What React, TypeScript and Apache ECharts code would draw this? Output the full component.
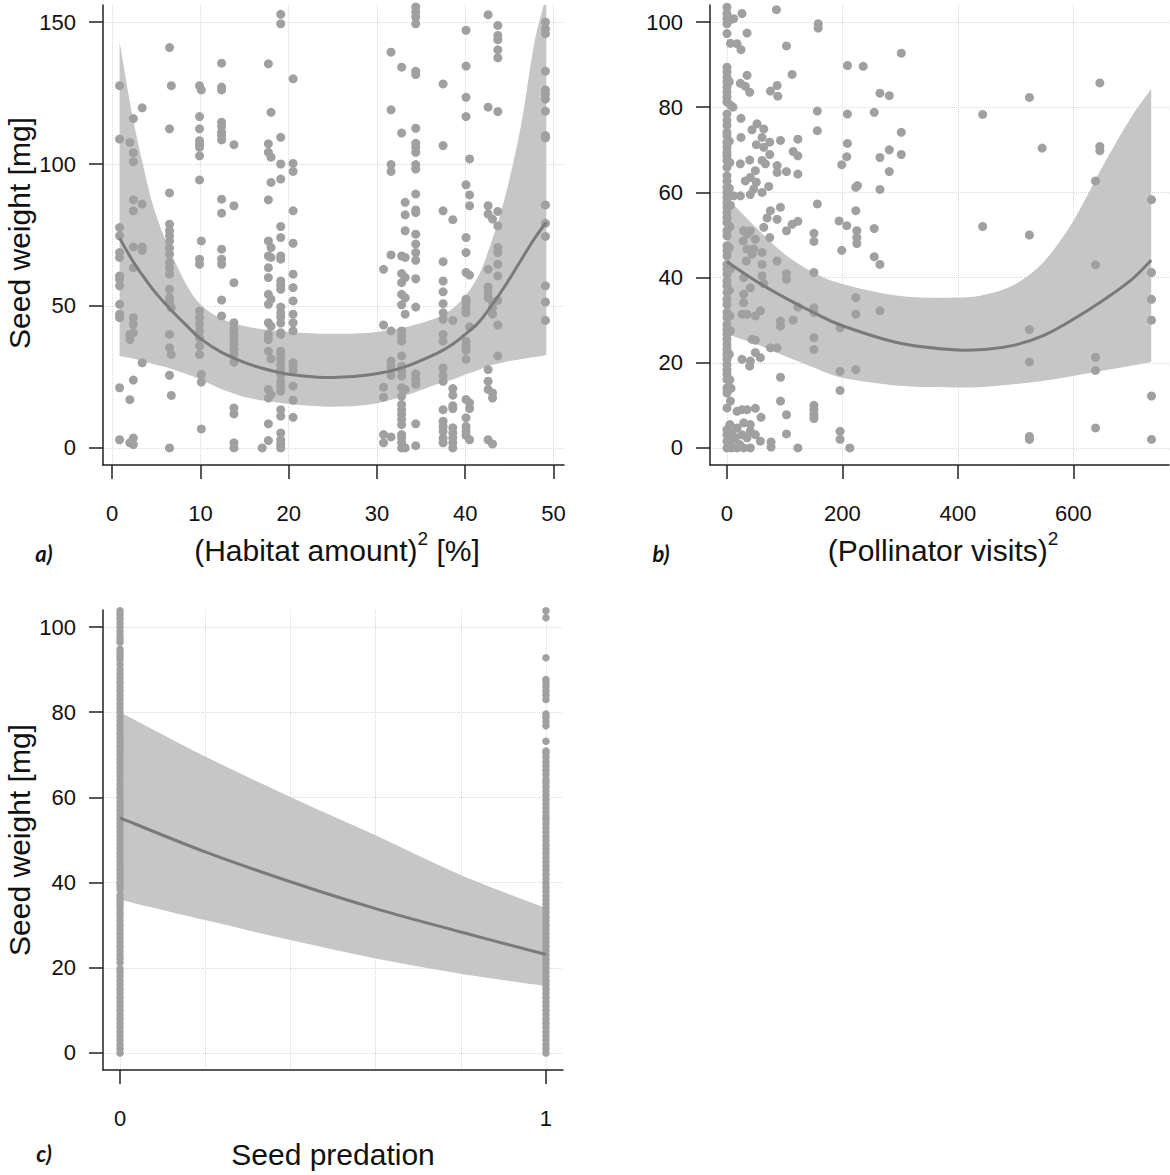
import React, { useEffect, useRef } from 'react';
import * as echarts from 'echarts';

// ---------- Panel a: Seed weight vs (Habitat amount)^2 ----------
const habitatTicks = [0, 10, 20, 30, 40, 50];
const seedTicksA = [0, 50, 100, 150];
const habitatCols: [number, number[]][] = [
  [0.84, [127.6, 108.8, 77.6, 74.7, 68.8, 67.1, 60.6, 59.4, 57.1, 50.6, 47.1, 45.9, 21.2, 2.9]],
  [2.0, [107.6, 40, 38.2, 17, 1.8]],
  [2.4, [116, 104, 100.8, 87.4, 83.5, 70.8, 63.5, 45.9, 43.5, 40.6, 23.9, 3.5, 1.2]],
  [3.4, [119.8, 85.9, 70.8, 69.6, 30]],
  [6.5, [141, 112.4, 89.8, 78.8, 76.5, 74.7, 72.9, 70.4, 68.2, 65.3, 63.5, 61.2, 55.9, 52.9, 51.2, 40, 35.3, 25.6, 0]],
  [6.7, [127.6, 49.4, 32.9, 18.5]],
  [9.9, [127.6, 116.7, 112.4, 108.2, 106.8, 105.9, 102.9, 94.4, 66.5, 64.7, 48.2, 45.9, 43.5, 41.2, 38.8, 35.9, 32.9]],
  [10.1, [126.1, 72.9, 25.9, 23.2, 6.7]],
  [12.4, [135.5, 127.1, 126.1, 114.7, 113.2, 111.2, 110, 108.5, 87.6, 82.7, 70, 66.5, 64.7, 52.1, 46.5]],
  [13.8, [106.8, 85.3, 58.2, 44.1, 41.8, 40, 38.2, 36.5, 34.7, 32.9, 30.2, 14.1, 12, 1.8, 0]],
  [17.0, [0]],
  [17.7, [135.3, 107.1, 104.1, 87.4, 72.9, 67.6, 63.5, 60, 54.1, 50.6, 44.1, 40, 38.2, 34.1, 20.6, 17.6, 8.5, 2.6]],
  [18.0, [118.2, 102.4, 93.5, 70.6, 67.1, 52.4, 42.9, 31.4, 18.8]],
  [19.1, [152.7, 149.4, 109.4, 100, 94.7, 78, 74.1, 67.6, 66.5, 58.8, 57.3, 55.9, 49.6, 47.6, 46.1, 44, 40.6, 40, 34.1, 33, 31.2, 29.4, 27.6, 25.9, 23.5, 21.8, 20, 13.5, 11.2, 5.3, 2.9, 1.2, 0]],
  [20.5, [130, 100.2, 97.4, 83.5, 72.1, 61.2, 56.5, 51.8, 47.1, 44.1, 41.2, 30, 28.8, 27.4, 21.8, 16.8, 10.8]],
  [30.75, [62.9, 43.3, 21.4, 17.9, 4.7, 1.8]],
  [31.6, [139.4, 119.1, 99.8, 97.4, 68, 41.2, 30.6, 28.6, 25.6, 3.9]],
  [32.8, [134.1, 110.9, 67.6, 61.4, 58.2, 54.1, 50.4, 41.2, 39.4, 37.6, 32.4, 28.8, 27.1, 25.3, 21.2, 18.2, 15.3, 13.5, 11.8, 10, 8.2, 4.7, 3.5, 1.8, 0]],
  [33.2, [86.5, 82.1, 76.5, 67.1, 60, 52.9, 47.1, 20.6, 0]],
  [34.4, [155.3, 153.5, 151.8, 149.4, 132.7, 131.5, 112.6, 107.3, 105.9, 104.1, 99.8, 98.2, 89.4, 83.8, 82.9, 75.3, 71.8, 68.8, 66.1, 59.6, 49.6, 26.1, 24.1, 22.4, 8.5, 0.8]],
  [37.5, [128.2, 106.5, 83.5, 65.6, 58.8, 55, 50.8, 47.6, 45.3, 40, 37.6, 28.2, 25.6, 23.5, 13.5, 9.4, 7.6, 5.9, 3.5, 1.8]],
  [38.6, [80.4, 44.9, 20.9, 18.6, 14.9, 13.9, 7.1, 5.3, 3.5, 1.8, 0]],
  [40.1, [147.1, 134.5, 123.5, 116.7, 92.7, 74.1, 68.8, 61.8, 52.4, 51.2, 49.4, 47.6, 37.6, 35.9, 34.4, 31.2, 17.1, 10.6, 7.6, 5.9, 4.4]],
  [40.5, [101.8, 89.1, 85.3, 60.9, 42.6, 15.9, 13.9, 2.9]],
  [42.6, [152.6, 120, 85.3, 82.4, 62.9, 56.7, 54.7, 52.9, 27.6, 23.5, 20.6, 2.9]],
  [43.1, [80.6, 51.2, 49.4, 47.1, 19.4, 17.6, 1.4]],
  [43.7, [148.8, 145.3, 143.8, 140.2, 137.4, 118.5, 83.3, 78.2, 70.6, 68.8, 64.7, 60.6, 52, 43.3, 32.4]],
  [49.1, [150, 147.6, 145.9, 132.7, 126.1, 124.7, 122.9, 118.6, 110, 109.2, 85.6, 79.1, 74.5, 57.1, 51.4, 44.9]],
];
const habitatFitX = [0.84, 2.3, 3.4, 4.7, 6.4, 8.3, 10, 12.5, 15.5, 18.9, 21.2, 25, 29.2, 33, 36.8, 38.7, 40, 41.4, 42.5, 44.4, 46.3, 47.8, 48.9, 49.2];
const habitatFit = [73.9, 66, 61, 55.5, 49.5, 43.5, 38.5, 33.5, 29.5, 26.6, 25.5, 24.8, 25.8, 28.4, 33.3, 36.8, 40, 43.8, 48, 56.5, 66, 73.5, 78.3, 79.4];
const habitatUpper = [143, 117, 101, 84.7, 70.6, 58.2, 50.6, 45.3, 42.6, 41.2, 40.6, 40.2, 40.6, 42.4, 45.9, 49.4, 53.5, 60, 68.2, 87, 113, 142, 156, 162];
const habitatLower = [32.4, 31.5, 30.6, 29.5, 28.2, 26.2, 24.1, 20.6, 17.6, 15.9, 15.1, 14.5, 15.3, 18.2, 22.4, 24.2, 25.9, 27.3, 28.8, 30.2, 31.2, 32, 32.5, 32.7];

// ---------- Panel b: Seed weight vs (Pollinator visits)^2 ----------
const pollinatorTicks = [0, 200, 400, 600];
const seedTicksB = [0, 20, 40, 60, 80, 100];
const pollinatorZeroYs = [103.5, 102, 100.8, 99.6, 97.3, 89.4, 88.2, 87, 85.9, 84.7, 83.5, 82.4, 81.2, 78.4, 76.9, 75.7, 74.1, 73.3, 71.8, 70.6, 69.4, 68.6, 67.5, 65.9, 63.9, 62.7, 61.2, 60, 58.8, 57.6, 56.5, 55.3, 54.1, 52.9, 51, 49.8, 47.5, 46.3, 45.1, 43.1, 42, 40.8, 39.2, 38, 36.5, 34.9, 33.7, 31.8, 30.6, 29, 27.8, 26.7, 25.5, 24.3, 23.1, 22, 20.8, 19.6, 18.4, 17.3, 16.1, 14.1, 12.9, 9.4, 4.3, 3.1, 1.6, 0];
const pollinatorPoints: [number, number][] = [
  [5, 100.5], [6, 95], [4, 86], [6, 80.5], [4, 72], [5, 67], [4, 61], [6, 57], [5, 52], [4, 47], [6, 42], [4, 37], [5, 31], [6, 27.5], [4, 22], [5, 16], [7, 14], [6, 11], [5, 5.5], [7, 1.5], [8, 0],
  [26, 102], [11.6, 100.8], [34.8, 97.4], [17.4, 94.9], [24.3, 93.5], [85.7, 102.9], [103.1, 94.4], [112.9, 87.7], [34.8, 87.5], [23.2, 85.6],
  [31.8, 84.9], [39.4, 83.5], [75.3, 83.8], [86.9, 85.1], [88, 82.6], [10.4, 80], [156.5, 79.1], [156.5, 74.5], [24.3, 77.4], [43.4, 74.7],
  [52.1, 76.1], [63.7, 74.9], [60.8, 72.9], [24.3, 72.9], [92.7, 72.2], [122.8, 72.5], [50.9, 71.2], [63.7, 70.6], [74.1, 71.8], [114.7, 69.6],
  [122.8, 68.6], [39.4, 67.6], [60.8, 67.5], [66.6, 66.7], [74.1, 68.9], [86.9, 66.3], [86.9, 64.7], [103.1, 64.9], [122.8, 64.3], [23.2, 66.7],
  [31.8, 62.7], [40.5, 63.5], [49.2, 65.1], [50.9, 62.4], [40.5, 59.5], [46.3, 60.8], [60.8, 60], [72.4, 61.4], [11.6, 59.2], [23.2, 59.2],
  [156.5, 57.3], [92.7, 56.5], [75.3, 55.7], [69.5, 54], [86.9, 53.7], [63.7, 51.8], [103.1, 51], [112.9, 52.5], [122.8, 53.2], [150.7, 50.4],
  [150.7, 48.5], [74.1, 49.4], [49.2, 49], [29, 51], [34.8, 50.2], [40.5, 51], [27.8, 48.6], [34.8, 46.7], [46.3, 46.7], [60.8, 45.9],
  [43.4, 45.5], [86.9, 43.9], [60.8, 43.1], [33.6, 43.9], [150.7, 41.2], [103.1, 40.9], [103.1, 39.6], [60.8, 40.4], [63.7, 38.6], [29, 40],
  [40.5, 37.6], [29, 36.1], [29, 34.1], [34.8, 31.4], [26, 31.4], [49.2, 31], [57.9, 32.2], [92.7, 29.8], [92.7, 28.6], [122.8, 33.1],
  [114.7, 30], [150.7, 32.9], [150.7, 31.8], [150.7, 25.9], [150.7, 23.1], [43.4, 25.5], [49.2, 25.3], [75.3, 23.5], [86.9, 23.5], [49.2, 22.4],
  [57.9, 21.2], [40.5, 20.4], [39.4, 19.2], [26, 20.8], [92.7, 16.6], [92.7, 11], [103.1, 7.8], [103.1, 3.3], [150.7, 10], [150.7, 9],
  [150.7, 7.8], [150.7, 6.9], [17.4, 8.6], [26, 9], [34.8, 9], [49.2, 9.3], [59, 7.2], [29, 5.9], [40.5, 5.5], [17.4, 4.7],
  [40.5, 3.9], [49.2, 3.1], [57.9, 1.6], [8.7, 3.5], [26, 3.1], [34.8, 2.4], [76.4, 1.4], [76.4, 0.2], [122.8, 0], [17.4, 0],
  [29, 0], [40.5, 0], [14.5, 2.4], [21.9, 0.8], [158, 99.6], [158, 98.6],
  [194.2, 53.3], [207.5, 52.2], [198.8, 46.4], [223.2, 55.7], [225, 51], [225, 49.4], [225, 48], [223.2, 61.2], [226.1, 61.6], [208.7, 78.4],
  [208.7, 71.5], [207.5, 68.4], [198.8, 66.5], [208.7, 89.8], [236, 89.6], [265, 83.3], [281.2, 82.7], [255.1, 78.8], [281.2, 70], [265, 68.2],
  [281.2, 64.9], [265, 60.7], [255.1, 51.5], [255.1, 44.9], [265, 43.1], [302, 92.7], [302, 74.1], [302, 68.9], [223.2, 35.3], [223.2, 31.4],
  [265, 32.2], [195.9, 28.2], [195.9, 18], [223.2, 18.4], [195.9, 13.5], [195.9, 3.9], [195.9, 2], [212.8, 0],
  [443, 78.3], [443, 52], [524, 82.3], [524, 50], [524, 27.8], [524, 20.2], [524, 2.7], [524, 2], [546, 70.4],
  [646, 85.7], [646, 70.8], [646, 69.8], [638.5, 62.7], [638.5, 43], [638.5, 21.3], [638.5, 18.2], [638.5, 4.7],
  [735.5, 58.3], [735.5, 41.2], [735.5, 34.9], [735.5, 30], [735.5, 12.2], [735.5, 2],
];
const pollinatorFitX = [0, 50, 100, 150, 200, 300, 400, 450, 500, 550, 600, 650, 700, 735];
const pollinatorFit = [43.7, 39.2, 35.3, 31.8, 28.7, 24.6, 23, 23.2, 24.2, 26.5, 30.2, 34.5, 39.4, 44.1];
const pollinatorUpper = [58.8, 51.8, 45.5, 41.2, 38.5, 35.7, 35.3, 36.1, 38.5, 43.9, 53.3, 65.9, 77.6, 84.3];
const pollinatorLower = [26.7, 24.4, 21.6, 18.9, 16.5, 14.6, 14.2, 14.4, 15, 15.8, 16.9, 18.1, 19.3, 20.2];

// ---------- Panel c: Seed weight vs Seed predation ----------
const predationTicks = [0, 1];
const predationGrid = [0, 0.2, 0.4, 0.6, 0.8, 1];
const seedTicksC = [0, 20, 40, 60, 80, 100];
const predation0Ys = [0, 1, 2, 3, 4, 5, 6, 7, 8, 9, 10, 11, 12, 13, 14, 15, 16, 17, 18, 19, 19.8, 21.2, 22.1, 23, 24, 25, 26, 27, 28, 29, 30, 31, 32, 32.8, 33.8, 34.6, 35.4, 36.2, 37, 38.4, 39.2, 40, 41, 42, 43, 44, 45, 46, 47, 48, 49, 50, 51, 52, 53, 54, 55, 56, 57, 58, 59, 60, 61, 62, 63, 64, 65, 66, 67, 68, 69, 70, 71, 72, 73, 74, 75, 76, 77, 78, 79, 80, 81, 82, 83, 84, 85, 86, 87, 88, 89, 90, 91.2, 92.4, 93.2, 94, 94.8, 96.4, 97.2, 98, 99, 100, 101, 102, 103, 103.8];
const predation1Ys = [0, 1, 2, 3, 4, 5, 6, 7, 8, 9, 10, 11, 12, 13, 14, 15, 16, 17, 18, 19, 20, 21, 22, 23, 24, 25, 26, 27, 28, 29, 30, 31, 32, 33, 34, 35, 35.9, 36.9, 37.9, 38.9, 39.9, 40.9, 41.9, 42.9, 43.9, 44.9, 45.9, 46.9, 47.8, 48.8, 49.8, 50.8, 51.8, 52.8, 53.8, 54.8, 55.5, 56.5, 57.5, 58.5, 59.5, 60.5, 61.5, 62.5, 63.5, 64.2, 65.4, 66.4, 67.4, 68.4, 69.4, 70.4, 70.9, 73.2, 76.8, 77.8, 78.8, 79.6, 83, 84, 85, 86, 87, 87.7, 92.8, 102.2, 103.8];
const predationFitX = [0, 0.2, 0.4, 0.6, 0.8, 1];
const predationFit = [55.2, 47.2, 40.2, 33.9, 28.4, 23.1];
const predationUpper = [80, 69.6, 60.1, 51.1, 41.8, 34];
const predationLower = [36, 31.2, 26.5, 22.2, 18.6, 15.7];

const FONT = '"Liberation Sans", Arial, Helvetica, sans-serif';
const AXIS_COLOR = '#222';
const TEXT_COLOR = '#111';
const POINT_COLOR = '#a0a0a0';
const BAND_COLOR = '#c6c6c6';
const LINE_COLOR = '#7a7a7a';
const GRID_LINE = { color: '#d9d9d9', type: 'dotted' as const, width: 1 };
const TICK_FONT = 22;
const TITLE_FONT = 30;

function xAxis(gridIndex: number, min: number, max: number, ticks: number[], showSplit: boolean) {
  return {
    type: 'value', gridIndex, min, max, position: 'bottom',
    axisLine: { show: true, onZero: false, lineStyle: { color: AXIS_COLOR, width: 1.5 } },
    axisTick: { show: true, length: 14, customValues: ticks, lineStyle: { color: AXIS_COLOR, width: 1.5 } },
    axisLabel: { show: true, customValues: ticks, margin: 37, fontSize: TICK_FONT, color: TEXT_COLOR, fontFamily: FONT, formatter: (v: number) => String(v) },
    splitLine: { show: showSplit, lineStyle: GRID_LINE },
  };
}
function hiddenXAxis(gridIndex: number, min: number, max: number, ticks: number[]) {
  return {
    type: 'value', gridIndex, min, max, position: 'bottom',
    axisLine: { show: false, onZero: false },
    axisTick: { show: false, customValues: ticks },
    axisLabel: { show: false, customValues: ticks },
    splitLine: { show: true, lineStyle: GRID_LINE },
  };
}
function yAxis(gridIndex: number, min: number, max: number, ticks: number[]) {
  return {
    type: 'value', gridIndex, min, max, position: 'left',
    axisLine: { show: true, onZero: false, lineStyle: { color: AXIS_COLOR, width: 1.5 } },
    axisTick: { show: true, length: 14, customValues: ticks, lineStyle: { color: AXIS_COLOR, width: 1.5 } },
    axisLabel: { show: true, customValues: ticks, margin: 27, fontSize: TICK_FONT, color: TEXT_COLOR, fontFamily: FONT, formatter: (v: number) => String(v) },
    splitLine: { show: true, lineStyle: GRID_LINE },
  };
}

// Catmull-Rom style smoothing of a pixel polyline into cubic bezier segments
function curveSegments(p: number[][]): string {
  let d = '';
  const n = p.length;
  for (let i = 0; i < n - 1; i++) {
    const p0 = p[Math.max(i - 1, 0)], p1 = p[i], p2 = p[i + 1], p3 = p[Math.min(i + 2, n - 1)];
    const c1x = p1[0] + (p2[0] - p0[0]) / 6, c1y = p1[1] + (p2[1] - p0[1]) / 6;
    const c2x = p2[0] - (p3[0] - p1[0]) / 6, c2y = p2[1] - (p3[1] - p1[1]) / 6;
    d += ` C${c1x.toFixed(2)} ${c1y.toFixed(2)} ${c2x.toFixed(2)} ${c2y.toFixed(2)} ${p2[0].toFixed(2)} ${p2[1].toFixed(2)}`;
  }
  return d;
}

function panelSeries(xAxisIndex: number, yAxisIndex: number, fitX: number[], fit: number[], upper: number[], lower: number[], points: [number, number][], symbolSize: number) {
  return [
    {
      type: 'custom', xAxisIndex, yAxisIndex, silent: true, clip: true, z: 1, data: [0],
      renderItem: (_params: any, api: any) => {
        const up = fitX.map((x, i) => api.coord([x, upper[i]]));
        const lo = fitX.map((x, i) => api.coord([x, lower[i]])).reverse();
        const d = `M${up[0][0]} ${up[0][1]}` + curveSegments(up) + ` L${lo[0][0]} ${lo[0][1]}` + curveSegments(lo) + ' Z';
        return { type: 'path', shape: { pathData: d }, style: { fill: BAND_COLOR, stroke: null } };
      },
    },
    { type: 'scatter', xAxisIndex, yAxisIndex, silent: true, symbol: 'circle', symbolSize, data: points, itemStyle: { color: POINT_COLOR, opacity: 1 }, z: 2, emphasis: { disabled: true } },
    {
      type: 'custom', xAxisIndex, yAxisIndex, silent: true, clip: true, z: 3, data: [0],
      renderItem: (_params: any, api: any) => {
        const pts = fitX.map((x, i) => api.coord([x, fit[i]]));
        const d = `M${pts[0][0]} ${pts[0][1]}` + curveSegments(pts);
        return { type: 'path', shape: { pathData: d }, style: { fill: null, stroke: LINE_COLOR, lineWidth: 3 } };
      },
    },
  ];
}

function buildOption() {
  const habitatPts: [number, number][] = [];
  habitatCols.forEach(([x, ys]) => ys.forEach((y) => habitatPts.push([x, y])));
  const pollPts: [number, number][] = pollinatorZeroYs.map((y) => [0, y] as [number, number]).concat(pollinatorPoints);
  const predPts: [number, number][] = predation0Ys.map((y) => [0, y] as [number, number]).concat(predation1Ys.map((y) => [1, y] as [number, number]));

  const titleStyle = { fontSize: TITLE_FONT, fontFamily: FONT, fill: TEXT_COLOR };
  const center = { align: 'center', verticalAlign: 'middle', textAlign: 'center', textVerticalAlign: 'middle' };
  const tagStyle = { font: 'italic bold 22px Lato, "Open Sans", sans-serif', fill: TEXT_COLOR, ...center };
  const supRich = { sup: { fontSize: 19, lineHeight: 19, fontFamily: FONT, fill: TEXT_COLOR, verticalAlign: 'top' } };

  return {
    animation: false,
    backgroundColor: '#ffffff',
    grid: [
      { left: 103, top: 5, width: 461, height: 460 },
      { left: 710, top: 5, width: 459, height: 460 },
      { left: 103, top: 610, width: 460, height: 460 },
    ],
    xAxis: [
      xAxis(0, -1.04, 51.2, habitatTicks, true),
      xAxis(1, -29.4, 765.8, pollinatorTicks, true),
      xAxis(2, -0.04, 1.04, predationTicks, false),
      hiddenXAxis(2, -0.04, 1.04, predationGrid),
    ],
    yAxis: [
      yAxis(0, -6, 156, seedTicksA),
      yAxis(1, -4, 104, seedTicksB),
      yAxis(2, -4, 104, seedTicksC),
    ],
    series: [
      ...panelSeries(0, 0, habitatFitX, habitatFit, habitatUpper, habitatLower, habitatPts, 9),
      ...panelSeries(1, 1, pollinatorFitX, pollinatorFit, pollinatorUpper, pollinatorLower, pollPts, 9),
      ...panelSeries(2, 2, predationFitX, predationFit, predationUpper, predationLower, predPts, 7.5),
    ],
    graphic: [
      { type: 'text', x: 19, y: 233, rotation: Math.PI / 2, style: { ...titleStyle, text: 'Seed weight [mg]', ...center } },
      { type: 'text', x: 19, y: 840, rotation: Math.PI / 2, style: { ...titleStyle, text: 'Seed weight [mg]', ...center } },
      { type: 'text', x: 337, y: 550, style: { ...titleStyle, text: '(Habitat amount){sup|2} [%]', rich: supRich, lineHeight: 42, ...center } },
      { type: 'text', x: 943, y: 550, style: { ...titleStyle, text: '(Pollinator visits){sup|2}', rich: supRich, lineHeight: 42, ...center } },
      { type: 'text', x: 333, y: 1154, style: { ...titleStyle, text: 'Seed predation', ...center } },
      { type: 'text', x: 44, y: 553, style: { ...tagStyle, text: 'a)' } },
      { type: 'text', x: 661, y: 553, style: { ...tagStyle, text: 'b)' } },
      { type: 'text', x: 44, y: 1153, style: { ...tagStyle, text: 'c)' } },
    ],
  };
}

export default function App() {
  const ref = useRef<HTMLDivElement>(null);
  useEffect(() => {
    document.body.style.margin = '0';
    const chart = echarts.init(ref.current as HTMLDivElement, null, { renderer: 'svg' });
    chart.setOption(buildOption() as any);
    return () => chart.dispose();
  }, []);
  return <div ref={ref} style={{ position: 'absolute', left: 0, top: 0, width: 1170, height: 1175 }} />;
}
